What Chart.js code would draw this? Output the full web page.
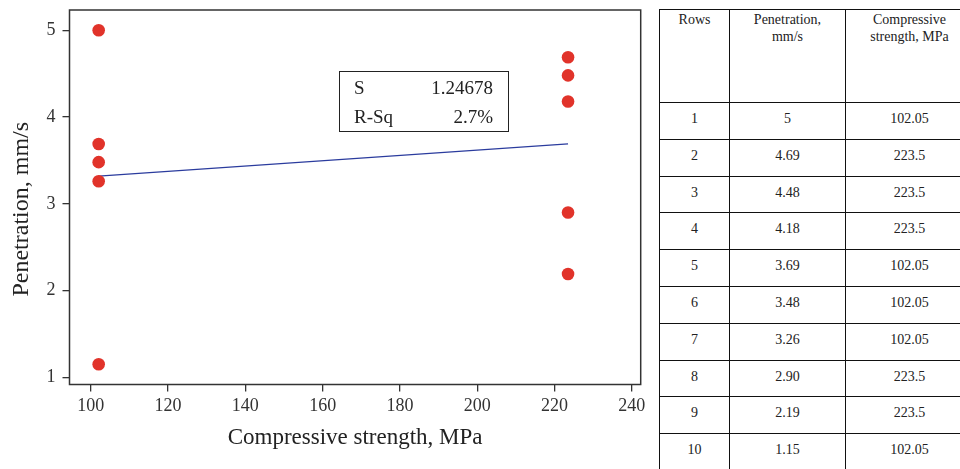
<!DOCTYPE html>
<html>
<head>
<meta charset="utf-8">
<script src="https://cdn.jsdelivr.net/npm/chart.js@4.4.1/dist/chart.umd.min.js"></script>
<style>
  html, body { margin: 0; padding: 0; background: #fff; }
  body { width: 960px; height: 469px; position: relative; overflow: hidden; font-family: 'Liberation Serif', 'DejaVu Serif', serif; color: #222; }
  #wrap { position: absolute; left: 0; top: 0; width: 655px; height: 469px; }
  #stats { position: absolute; left: 339px; top: 71px; width: 168px; height: 58px; border: 1.5px solid #222; font-family: 'Liberation Serif', serif; font-size: 19px; line-height: 29px; padding-top: 1px; }
  #stats div { display: flex; justify-content: space-between; padding: 0 15px 0 14px; }
  #tbl { position: absolute; left: 659px; top: 9px; width: 311px; table-layout: fixed; border-collapse: collapse; font-family: 'Liberation Serif', serif; font-size: 14px; color: #222; }
  #tbl td { border: 1.3px solid #111; vertical-align: top; text-align: center; padding: 7px 0 0 0; line-height: 17px; font-family: 'Liberation Serif', serif; }
  #tbl tr { height: 36.8px; }
  #tbl tr.head { height: 93px; }
  #tbl tr.head td { padding-top: 1px; }
</style>
</head>
<body>
<div id="wrap"><canvas id="chart"></canvas></div>
<div id="stats">
  <div><span>S</span><span>1.24678</span></div>
  <div><span>R-Sq</span><span>2.7%</span></div>
</div>
<table id="tbl"></table>
<script>
  'use strict';

  const rows = [1, 2, 3, 4, 5, 6, 7, 8, 9, 10];
  const penetration = [5, 4.69, 4.48, 4.18, 3.69, 3.48, 3.26, 2.90, 2.19, 1.15];
  const strength = [102.05, 223.5, 223.5, 223.5, 102.05, 102.05, 102.05, 223.5, 223.5, 102.05];

  // Fitted line as drawn in the plot
  const fitX = [102.05, 223.5];
  const fitY = [3.32, 3.69];

  const xTicks = [100, 120, 140, 160, 180, 200, 220, 240];
  const yTicks = [1, 2, 3, 4, 5];

  const SERIF = "'Liberation Serif', 'DejaVu Serif', serif";
  const AXIS_COLOR = '#333';

  // table
  const tbl = document.getElementById('tbl');
  const colW = [69, 115, 127];
  let html = '<tr class="head">' +
    `<td style="width:${colW[0]}px">Rows</td>` +
    `<td style="width:${colW[1]}px">Penetration,<br>mm/s</td>` +
    `<td style="width:${colW[2]}px">Compressive<br>strength, MPa</td></tr>`;
  rows.forEach((r, i) => {
    const p = Number.isInteger(penetration[i]) ? String(penetration[i]) : penetration[i].toFixed(2);
    html += `<tr><td>${r}</td><td>${p}</td><td>${strength[i]}</td></tr>`;
  });
  tbl.innerHTML = html;

  // box around the plot area
  const frame = {
    id: 'frame',
    afterDatasetsDraw(chart) {
      const { ctx, chartArea: a } = chart;
      ctx.save();
      ctx.strokeStyle = AXIS_COLOR;
      ctx.lineWidth = 1.5;
      ctx.strokeRect(a.left, a.top, a.right - a.left, a.bottom - a.top);
      ctx.restore();
    }
  };

  const noPad = (s) => { s.paddingTop = 0; s.paddingBottom = 0; s.paddingLeft = 0; s.paddingRight = 0; };

  new Chart(document.getElementById('chart'), {
    type: 'scatter',
    data: {
      datasets: [
        {
          label: 'Fit',
          data: fitX.map((x, i) => ({ x, y: fitY[i] })),
          showLine: true,
          borderColor: '#2b3c9e',
          borderWidth: 1.3,
          pointRadius: 0,
          order: 2
        },
        {
          label: 'Data',
          data: strength.map((x, i) => ({ x, y: penetration[i] })),
          backgroundColor: '#e1332a',
          borderColor: '#e1332a',
          borderWidth: 0,
          pointRadius: 6.3,
          order: 1
        }
      ]
    },
    options: {
      responsive: true,
      maintainAspectRatio: false,
      animation: false,
      layout: { padding: { left: 0, top: 10, right: 14.3, bottom: 0 } },
      plugins: { legend: { display: false }, tooltip: { enabled: false } },
      scales: {
        x: {
          type: 'linear',
          min: 94.5,
          max: 242.3,
          afterBuildTicks: (s) => { s.ticks = xTicks.map(v => ({ value: v })); },
          afterFit: (s) => { s.height = 84.5; noPad(s); },
          border: { display: false },
          grid: { drawOnChartArea: false, drawTicks: true, tickLength: 7, color: AXIS_COLOR, lineWidth: 1.3 },
          ticks: { font: { family: SERIF, size: 18 }, color: '#333', padding: 4, maxRotation: 0 },
          title: { display: true, text: 'Compressive strength, MPa', font: { family: SERIF, size: 23 }, color: '#222', padding: { top: 0, bottom: 17 } }
        },
        y: {
          type: 'linear',
          min: 0.917,
          max: 5.234,
          afterBuildTicks: (s) => { s.ticks = yTicks.map(v => ({ value: v })); },
          afterFit: (s) => { s.width = 69.5; noPad(s); },
          border: { display: false },
          grid: { drawOnChartArea: false, drawTicks: true, tickLength: 7, color: AXIS_COLOR, lineWidth: 1.3 },
          ticks: { font: { family: SERIF, size: 18 }, color: '#333', padding: 7 },
          title: { display: true, text: 'Penetration, mm/s\u00a0\u00a0\u00a0\u00a0', font: { family: SERIF, size: 24 }, color: '#222', padding: { top: 7, bottom: 0 } }
        }
      }
    },
    plugins: [frame]
  });
</script>
</body>
</html>
